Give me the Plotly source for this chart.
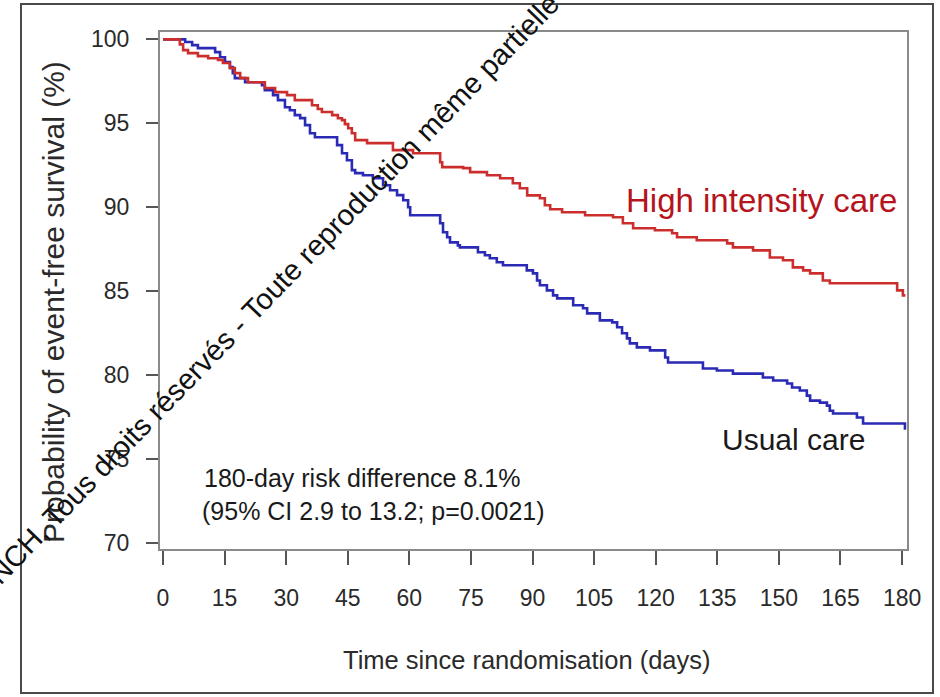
import plotly.graph_objects as go

# Kaplan-Meier step data (time in days, event-free survival in %)
high_days = [0, 4.1, 4.9, 6.1, 8.5, 11.0, 13.4, 14.6, 16.3, 17.5, 18.8, 20.7, 24.8, 27.3, 30.2,
             32.1, 36.3, 37.7, 38.7, 41.2, 42.6, 43.6, 44.3, 45.1, 46.0, 46.8, 49.7, 56.0, 60.9, 67.5,
             68.0, 73.1, 74.8, 78.9, 82.1, 85.2, 86.9, 88.7, 91.8, 93.0, 94.3, 97.2, 102.8, 109.6, 112.0,
             114.5, 119.8, 124.0, 125.2, 130.0, 137.4, 138.8, 143.7, 147.8, 151.0, 153.4, 155.9, 157.6,
             160.7, 162.4, 178.8, 180.2, 180.8]
high_surv = [100, 99.7, 99.36, 99.18, 99.0, 98.88, 98.77, 98.59, 98.29, 97.99, 97.69, 97.45, 97.1, 96.86,
             96.68, 96.38, 96.08, 95.85, 95.67, 95.49, 95.3, 95.19, 94.95, 94.71, 94.41, 94.0, 93.82, 93.4,
             93.22, 92.68, 92.39, 92.33, 92.09, 91.91, 91.73, 91.43, 91.13, 90.71, 90.54, 90.12, 89.88,
             89.7, 89.52, 89.4, 89.05, 88.75, 88.63, 88.45, 88.21, 88.03, 87.85, 87.61, 87.43, 87.01,
             86.84, 86.42, 86.24, 86.06, 85.64, 85.47, 85.05, 84.75, 84.75]

usual_days = [0, 5.4, 7.1, 8.5, 12.7, 13.9, 15.1, 16.3, 17.0, 17.5, 20.0, 24.1, 24.8, 26.8, 28.0,
              29.7, 30.9, 32.1, 33.4, 34.6, 35.8, 37.0, 42.4, 43.6, 44.8, 46.0, 46.8, 48.7, 51.1, 53.6,
              55.3, 57.0, 58.5, 59.7, 60.2, 67.5, 68.2, 69.2, 69.9, 71.8, 72.3, 76.7, 78.4, 79.6, 81.3,
              82.8, 88.6, 90.1, 91.1, 91.8, 93.5, 95.0, 96.0, 99.9, 102.3, 103.3, 106.4, 109.4, 110.6,
              111.8, 113.0, 113.7, 115.4, 118.6, 122.3, 123.0, 131.5, 134.9, 138.8, 146.1, 148.6, 152.0,
              153.2, 155.1, 156.8, 157.6, 160.0, 161.7, 162.4, 163.2, 169.0, 170.5, 180.7, 181.0]
usual_surv = [100, 99.84, 99.66, 99.48, 99.24, 98.94, 98.65, 98.35, 97.99, 97.69, 97.45, 97.27, 96.98,
              96.68, 96.38, 95.96, 95.78, 95.49, 95.31, 94.89, 94.41, 94.17, 93.7, 93.22, 92.8, 92.21,
              92.03, 91.91, 91.73, 91.31, 91.01, 90.72, 90.42, 90.0, 89.52, 89.05, 88.51, 88.21, 87.91,
              87.73, 87.61, 87.32, 87.14, 86.96, 86.72, 86.54, 86.24, 86.06, 85.64, 85.35, 85.05, 84.75,
              84.57, 84.16, 83.98, 83.68, 83.26, 83.14, 82.85, 82.49, 82.19, 81.89, 81.65, 81.47, 81.05,
              80.75, 80.39, 80.27, 80.09, 79.86, 79.68, 79.5, 79.26, 79.08, 78.78, 78.48, 78.36, 78.18,
              77.88, 77.71, 77.47, 77.12, 76.82, 76.82]

x_ticks = [0, 15, 30, 45, 60, 75, 90, 105, 120, 135, 150, 165, 180]
y_ticks = [70, 75, 80, 85, 90, 95, 100]

RED = "#cc2e2e"
BLUE = "#2a2ab5"
SANS = "Liberation Sans, Arial, sans-serif"

W, H = 940, 697
L, T, R, B = 160, 32, 907, 549


def paper(xp, yp):
    """Convert a pixel position on the page to paper coordinates."""
    return (xp - L) / (R - L), (B - yp) / (B - T)


fig = go.Figure()
fig.add_trace(go.Scatter(x=usual_days, y=usual_surv, mode="lines", line_shape="hv",
                         line=dict(color=BLUE, width=2.6), name="Usual care"))
fig.add_trace(go.Scatter(x=high_days, y=high_surv, mode="lines", line_shape="hv",
                         line=dict(color=RED, width=2.6), name="High intensity care"))

axis_common = dict(showgrid=False, zeroline=False, showline=True, mirror=True,
                   linecolor="#8a8a8a", linewidth=2, ticks="outside", tickcolor="#555",
                   tickwidth=1.5, tickfont=dict(family=SANS, size=23, color="#2a2a2a"))

fig.update_xaxes(range=[-0.73, 181.2], tickvals=x_ticks, ticktext=[str(v) for v in x_ticks],
                 ticklen=14, ticklabelstandoff=13, **axis_common)
fig.update_yaxes(range=[69.64, 100.44], tickvals=y_ticks, ticktext=[str(v) for v in y_ticks],
                 ticklen=12, ticklabelstandoff=12, **axis_common)

annotations = []


def note(text, xp, yp, size, color="#1a1a1a", angle=0, xanchor="center"):
    px_, py_ = paper(xp, yp)
    annotations.append(dict(text=text, x=px_, y=py_, xref="paper", yref="paper",
                            xanchor=xanchor, yanchor="middle", showarrow=False,
                            textangle=angle, font=dict(family=SANS, size=size, color=color)))


note("Time since randomisation (days)", 527, 660, 25.5, color="#2a2a2a")
note("Probability of event-free survival (%)", 53, 302, 30, color="#2a2a2a", angle=-90)
note("High intensity care", 761, 201, 33, color="#b5141c")
note("Usual care", 793, 439, 30)
note("180-day risk difference 8.1%", 202, 478, 25, xanchor="left")
note("(95% CI 2.9 to 13.2; p=0.0021)", 200, 511, 25, xanchor="left")
note("© CNCH, Tous droits réservés - Toute reproduction même partielle est interdite",
     311, 250, 29.2, color="#111", angle=-46)

# outer frame around the whole figure
fx0, fy0 = paper(21, 693)
fx1, fy1 = paper(933, 4)
fig.add_shape(type="rect", xref="paper", yref="paper", x0=fx0, y0=fy0, x1=fx1, y1=fy1,
              line=dict(color="#4a4a4a", width=2), fillcolor="rgba(0,0,0,0)", layer="below")

fig.update_layout(width=W, height=H, margin=dict(l=L, r=W - R, t=T, b=H - B),
                  paper_bgcolor="white", plot_bgcolor="white", showlegend=False,
                  annotations=annotations)

fig.write_html("out.html")
